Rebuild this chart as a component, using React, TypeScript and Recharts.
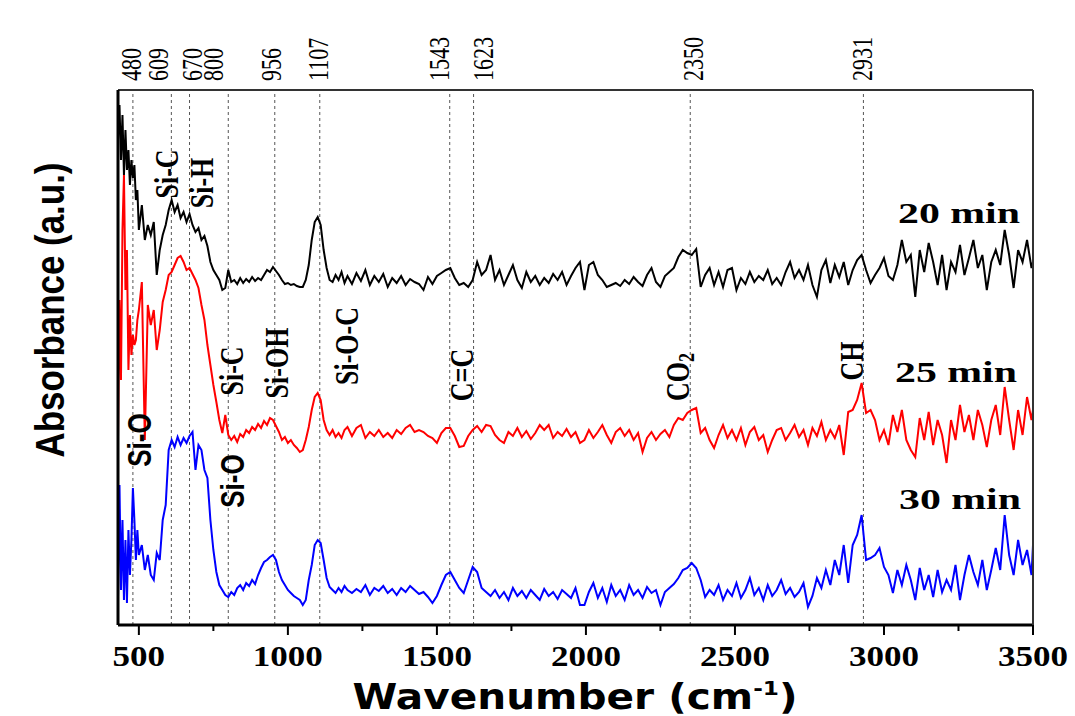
import { LineChart, Line, XAxis, YAxis, ReferenceLine } from "recharts";

// wavenumber grid (cm-1)
const wavenumbers = [
  430, 435, 440, 445, 450, 455, 460, 465, 470, 475,
  480, 485, 490, 495, 500,
  510, 520, 530, 540, 550, 560, 570, 580, 590, 600,
  610, 620, 630, 640, 650, 660, 670, 680, 690, 700,
  710, 720, 730, 740, 750, 760, 770, 780, 790, 800,
  810, 820, 830, 840, 850, 860, 870, 880, 890, 900,
  910, 920, 930, 940, 950, 960, 970, 980, 990, 1000,
  1010, 1020, 1030, 1040, 1050, 1060, 1070, 1080, 1090, 1100,
  1110, 1120, 1130, 1140, 1150, 1160, 1170, 1180, 1190, 1200,
  1215, 1230, 1245, 1260, 1275, 1290, 1305, 1320, 1335, 1350,
  1365, 1380, 1395, 1410, 1425, 1440, 1455, 1470, 1485, 1500,
  1515, 1530, 1545, 1560, 1575, 1590, 1605, 1620, 1635, 1650,
  1665, 1680, 1695, 1710, 1725, 1740, 1755, 1770, 1785, 1800,
  1815, 1830, 1845, 1860, 1875, 1890, 1905, 1920, 1935, 1950,
  1965, 1980, 1995, 2010, 2025, 2040, 2055, 2070, 2085, 2100,
  2115, 2130, 2145, 2160, 2175, 2190, 2205, 2220, 2235, 2250,
  2265, 2280, 2295, 2310, 2325, 2340, 2355, 2370, 2385, 2400,
  2415, 2430, 2445, 2460, 2475, 2490, 2505, 2520, 2535, 2550,
  2565, 2580, 2595, 2610, 2625, 2640, 2655, 2670, 2685, 2700,
  2715, 2730, 2745, 2760, 2775, 2790, 2805, 2820, 2835, 2850,
  2865, 2880, 2895, 2910, 2925, 2940, 2955, 2970, 2985, 3000,
  3015, 3030, 3045, 3060, 3075, 3090, 3105, 3120, 3135, 3150,
  3165, 3180, 3195, 3210, 3225, 3240, 3255, 3270, 3285, 3300,
  3315, 3330, 3345, 3360, 3375, 3390, 3405, 3420, 3435, 3450,
  3465, 3480, 3495, 3500,
];

// 20 min (black), stacked absorbance (a.u.)
const abs20min = [
  4.85, 5.2, 4.65, 5.1, 4.5, 4.95, 4.55, 4.75, 4.4, 4.65,
  4.47, 4.6, 4.25, 4.35, 3.95,
  4.2, 3.85, 4.0, 3.9, 4.03, 3.5, 3.75, 3.9, 4.0, 4.15,
  4.25, 4.13, 4.2, 4.07, 4.13, 4.03, 4.11, 4.0, 3.93, 3.97,
  3.85, 3.89, 3.79, 3.63, 3.55, 3.5, 3.45, 3.35, 3.37, 3.55,
  3.43, 3.45, 3.41, 3.47, 3.42, 3.46, 3.43, 3.48, 3.44, 3.47,
  3.45, 3.5, 3.55, 3.53, 3.58, 3.54, 3.5, 3.45, 3.41, 3.42,
  3.4, 3.41, 3.39, 3.38, 3.38, 3.45, 3.6, 3.85, 4.03, 4.08,
  4.0, 3.75, 3.57, 3.45, 3.43, 3.5, 3.45, 3.53, 3.42, 3.49,
  3.41, 3.52, 3.44, 3.55, 3.4, 3.49, 3.43, 3.51, 3.38, 3.47,
  3.42, 3.49, 3.4, 3.46, 3.43, 3.41, 3.35, 3.48, 3.41, 3.49,
  3.52, 3.55, 3.57, 3.47, 3.4, 3.42, 3.38, 3.45, 3.63, 3.5,
  3.55, 3.7, 3.45, 3.55, 3.4, 3.5, 3.6, 3.45, 3.37, 3.53,
  3.43, 3.49, 3.4, 3.47, 3.42, 3.51, 3.45, 3.53, 3.4, 3.49,
  3.57, 3.63, 3.35, 3.6, 3.63, 3.5, 3.45, 3.38, 3.4, 3.42,
  3.39, 3.45, 3.41, 3.48, 3.43, 3.39, 3.5, 3.57, 3.43, 3.38,
  3.49, 3.53, 3.57, 3.68, 3.75, 3.72, 3.7, 3.76, 3.38, 3.5,
  3.57, 3.4, 3.53, 3.38, 3.55, 3.57, 3.35, 3.47, 3.41, 3.53,
  3.43, 3.49, 3.45, 3.55, 3.41, 3.47, 3.4, 3.53, 3.63, 3.47,
  3.55, 3.45, 3.6, 3.4, 3.28, 3.55, 3.65, 3.42, 3.6, 3.48,
  3.63, 3.4, 3.55, 3.65, 3.7, 3.55, 3.42, 3.5, 3.57, 3.67,
  3.49, 3.45, 3.6, 3.85, 3.63, 3.7, 3.28, 3.75, 3.53, 3.82,
  3.63, 3.4, 3.7, 3.35, 3.63, 3.53, 3.8, 3.5, 3.67, 3.85,
  3.57, 3.7, 3.35, 3.63, 3.75, 3.6, 3.95, 3.7, 3.37, 3.75,
  3.63, 3.85, 3.57, 3.63,
];

// 25 min (red)
const abs25min = [
  1.85, 3.25, 2.45, 3.95, 4.5, 3.35, 3.75, 2.55, 3.1, 2.7,
  2.9, 2.8, 2.85, 3.05, 3.15,
  3.43, 1.85, 3.2, 3.0, 3.15, 2.75, 2.95, 3.23, 3.35, 3.5,
  3.53, 3.6, 3.67, 3.69, 3.63, 3.55, 3.57, 3.51, 3.45, 3.37,
  3.2, 3.05, 2.8, 2.6, 2.4, 2.23, 2.05, 1.92, 2.1, 1.9,
  1.85, 1.89, 1.83, 1.91, 1.88, 1.95, 1.92, 1.98, 1.95, 2.01,
  1.97, 2.04, 2.0, 2.07, 2.05, 1.99, 1.93, 1.85, 1.88, 1.82,
  1.85, 1.8, 1.77, 1.73, 1.75, 1.85, 1.98, 2.15, 2.28, 2.32,
  2.25, 2.05, 1.95, 1.9, 1.95, 1.88, 1.92, 1.87, 1.95, 1.98,
  1.89, 1.97, 2.0, 1.87, 1.93, 1.89, 1.95, 1.88, 1.92, 1.87,
  1.95, 1.91, 1.97, 2.0, 1.93, 1.95, 1.93, 1.89, 1.87, 1.82,
  1.92, 1.97, 1.97, 1.89, 1.78, 1.79, 1.89, 1.95, 1.99, 1.93,
  2.0, 1.99, 1.9, 1.85, 1.82, 1.93, 1.89, 1.97, 1.88, 1.94,
  1.86, 1.92, 2.0, 1.95, 2.0, 1.87, 1.93, 1.89, 1.96, 1.88,
  1.93, 1.82, 1.85, 1.95, 1.87, 1.93, 2.0, 1.9, 1.82, 1.93,
  1.97, 1.89, 1.95, 1.85, 1.92, 1.73, 1.87, 1.93, 1.85, 1.91,
  1.95, 1.88, 2.0, 2.07, 2.05, 2.12, 2.15, 2.17, 1.92, 1.97,
  1.85, 1.77, 1.9, 2.0, 1.87, 1.95, 1.85, 1.97, 1.8, 1.93,
  1.98, 1.85, 1.9, 1.73, 1.85, 1.95, 1.97, 1.85, 1.92, 2.0,
  1.88, 1.95, 1.8, 1.97, 1.89, 2.03, 1.85, 1.95, 1.87, 2.0,
  1.7, 2.13, 2.15, 2.25, 2.42, 2.12, 2.15, 2.05, 1.85, 1.95,
  1.8, 2.1, 1.93, 2.15, 1.85, 1.75, 1.68, 2.07, 1.85, 2.13,
  1.8, 2.05, 1.9, 1.62, 2.05, 1.85, 2.2, 1.93, 2.1, 1.85,
  2.15, 2.0, 1.78, 2.05, 2.2, 1.9, 2.38, 2.05, 1.75, 2.15,
  1.9, 2.28, 2.05, 2.15,
];

// 30 min (blue)
const abs30min = [
  0.25, 1.4, 0.35, 1.05, 0.25, 0.85, 0.22, 0.95, 0.5, 0.85,
  1.37, 1.05, 0.65, 0.95, 0.7,
  0.8, 0.55, 0.7, 0.5, 0.45, 0.72, 0.65, 1.05, 1.2, 1.75,
  1.85, 1.78, 1.88, 1.8, 1.87, 1.82, 1.89, 1.93, 1.55, 1.8,
  1.75, 1.55, 1.47, 1.05, 0.75, 0.53, 0.4, 0.35, 0.3, 0.28,
  0.33, 0.3, 0.37, 0.4, 0.35, 0.42, 0.39, 0.45, 0.41, 0.5,
  0.57, 0.63, 0.65, 0.68, 0.7, 0.65, 0.53, 0.45, 0.4, 0.35,
  0.32, 0.29, 0.27, 0.25, 0.2, 0.25, 0.45, 0.6, 0.8, 0.85,
  0.82, 0.65, 0.47, 0.38, 0.35, 0.32, 0.37, 0.33, 0.39, 0.35,
  0.32, 0.36, 0.33, 0.4, 0.3, 0.37, 0.34, 0.39, 0.32, 0.36,
  0.3, 0.37, 0.33, 0.39, 0.35, 0.31, 0.33, 0.28, 0.22, 0.29,
  0.4, 0.5, 0.53, 0.45, 0.37, 0.32, 0.45, 0.58, 0.53, 0.37,
  0.33, 0.29, 0.35, 0.27, 0.33, 0.25, 0.37, 0.29, 0.34, 0.27,
  0.35, 0.3, 0.25, 0.36, 0.29, 0.33, 0.26, 0.35, 0.31, 0.27,
  0.37, 0.2, 0.2, 0.33, 0.42, 0.27, 0.37, 0.23, 0.4, 0.29,
  0.35, 0.25, 0.4, 0.3, 0.35, 0.27, 0.38, 0.32, 0.35, 0.2,
  0.33, 0.37, 0.41, 0.47, 0.55, 0.57, 0.62, 0.57, 0.45, 0.28,
  0.35, 0.3, 0.4, 0.25, 0.35, 0.29, 0.42, 0.27, 0.35, 0.47,
  0.3, 0.37, 0.25, 0.4, 0.29, 0.35, 0.45, 0.31, 0.37, 0.28,
  0.33, 0.42, 0.18, 0.29, 0.47, 0.37, 0.55, 0.4, 0.65, 0.5,
  0.8, 0.42, 0.8, 0.9, 1.1, 0.65, 0.67, 0.7, 0.77, 0.58,
  0.5, 0.32, 0.55, 0.4, 0.6, 0.45, 0.25, 0.57, 0.35, 0.5,
  0.28, 0.55, 0.33, 0.45, 0.35, 0.6, 0.25, 0.5, 0.7, 0.53,
  0.4, 0.65, 0.35, 0.55, 0.77, 0.55, 1.1, 0.7, 0.5, 0.85,
  0.6, 0.75, 0.5, 0.8,
];

const majorTicks = [500, 1000, 1500, 2000, 2500, 3000, 3500];
const minorTicks = [750, 1250, 1750, 2250, 2750, 3250];
const bandMarks = [480, 609, 670, 800, 956, 1107, 1543, 1623, 2350, 2931];

const W = 1075;
const H = 716;
// plot area: x 118..1033, y 90..625 (axes take 1px each)
const M = { top: 89, right: 41, bottom: 90, left: 117 };
const AXIS_Y = 625;
const X_MIN = 430;
const X_MAX = 3500;

const SERIF = "'Liberation Serif', 'Times New Roman', serif";
const SANS = "'Liberation Sans', Arial, sans-serif";

const renderTick = (props: any) => {
  const { x, payload } = props;
  const v = payload.value;
  const major = v % 500 === 0;
  const s = String(v);
  return (
    <g>
      <line x1={x} x2={x} y1={AXIS_Y} y2={AXIS_Y + (major ? 10 : 6)} stroke="#000" strokeWidth={2} />
      {major && (
        <text x={x} y={666} textAnchor="middle" fontFamily={SERIF} fontWeight="bold" fontSize={30}
          textLength={s.length * 17.5} lengthAdjust="spacingAndGlyphs" fill="#000">
          {s}
        </text>
      )}
    </g>
  );
};

export default function App() {
  const data = wavenumbers.map((wn, i) => ({
    wn,
    m20: abs20min[i],
    m25: abs25min[i],
    m30: abs30min[i],
  }));

  // centres of the rotated labels above the frame (they are nudged apart where crowded)
  const bandLabelX = [131, 158, 192, 213, 271, 318, 439, 483, 693, 862];

  // vertical band labels inside the plot
  const notes = [
    { t: "Si-C", x: 167, y: 174, sans: false },
    { t: "Si-H", x: 202, y: 183, sans: false },
    { t: "Si-C", x: 232, y: 371, sans: false },
    { t: "Si-OH", x: 277, y: 363, sans: false },
    { t: "Si-O-C", x: 347, y: 346, sans: false },
    { t: "C=C", x: 462, y: 375, sans: false },
    { t: "CH", x: 852, y: 361, sans: false },
    { t: "Si-O", x: 139, y: 440, sans: true },
    { t: "Si-O", x: 232, y: 481, sans: true },
  ];

  const minutes = [
    { t: "20 min", x: 959, y: 223 },
    { t: "25 min", x: 956, y: 382 },
    { t: "30 min", x: 960, y: 509 },
  ];

  return (
    <div style={{ position: "absolute", left: 0, top: 0, width: W, height: H, background: "#fff" }}>
      <LineChart width={W} height={H} data={data} margin={M}>
        <XAxis
          dataKey="wn"
          type="number"
          domain={[X_MIN, X_MAX]}
          ticks={[...majorTicks, ...minorTicks].sort((a, b) => a - b)}
          height={1}
          tickSize={0}
          tick={renderTick}
          tickLine={false}
          axisLine={{ stroke: "#000", strokeWidth: 3 }}
        />
        <XAxis
          xAxisId="top"
          orientation="top"
          dataKey="wn"
          type="number"
          domain={[X_MIN, X_MAX]}
          height={1}
          tick={false}
          tickLine={false}
          axisLine={{ stroke: "#333", strokeWidth: 2 }}
        />
        <YAxis
          type="number"
          domain={[0, 5.35]}
          width={1}
          tick={false}
          tickLine={false}
          axisLine={{ stroke: "#000", strokeWidth: 3 }}
        />
        <YAxis
          yAxisId="right"
          orientation="right"
          type="number"
          domain={[0, 5.35]}
          width={1}
          tick={false}
          tickLine={false}
          axisLine={{ stroke: "#333", strokeWidth: 2 }}
        />
        {bandMarks.map((b) => (
          <ReferenceLine key={b} x={b} stroke="#555" strokeWidth={1} strokeDasharray="3 3" />
        ))}
        <Line type="linear" dataKey="m20" stroke="#000000" strokeWidth={2} dot={false} isAnimationActive={false} />
        <Line type="linear" dataKey="m25" stroke="#ff0000" strokeWidth={2} dot={false} isAnimationActive={false} />
        <Line type="linear" dataKey="m30" stroke="#0000ff" strokeWidth={2} dot={false} isAnimationActive={false} />
      </LineChart>

      <svg width={W} height={H} style={{ position: "absolute", left: 0, top: 0, pointerEvents: "none" }}>
        {/* band positions above the frame */}
        {bandMarks.map((b, i) => (
          <text key={b} transform={`translate(${bandLabelX[i]},81) rotate(-90) scale(1,1.3)`} dominantBaseline="central"
            fontFamily={SERIF} fontSize={22} fill="#000">
            {b}
          </text>
        ))}

        {notes.map((n, i) => (
          <text key={i} transform={`translate(${n.x},${n.y}) rotate(-90) scale(1,1.3)`} textAnchor="middle"
            dominantBaseline="central" fontFamily={n.sans ? SANS : SERIF} fontWeight="bold" fontSize={26} fill="#000">
            {n.t}
          </text>
        ))}
        <text transform="translate(678,377) rotate(-90) scale(1,1.3)" textAnchor="middle" dominantBaseline="central"
          fontFamily={SERIF} fontWeight="bold" fontSize={26} fill="#000">
          CO<tspan fontSize={18} dy={6}>2</tspan>
        </text>

        {minutes.map((m) => (
          <text key={m.t} x={m.x} y={m.y} textAnchor="middle" fontFamily={SERIF} fontWeight="bold" fontSize={29}
            textLength={122} lengthAdjust="spacingAndGlyphs" fill="#000">
            {m.t}
          </text>
        ))}

        <text x={575} y={709} textAnchor="middle" fontFamily="'DejaVu Sans', sans-serif" fontWeight="bold" fontSize={35}
          textLength={445} lengthAdjust="spacingAndGlyphs" fill="#000">
          Wavenumber (cm<tspan fontSize={20} dy={-14}>-1</tspan><tspan dy={14}>)</tspan>
        </text>
        <text transform="translate(50,310) rotate(-90)" textAnchor="middle" dominantBaseline="central" fontFamily={SANS}
          fontWeight="bold" fontSize={41} textLength={295} lengthAdjust="spacingAndGlyphs" fill="#000">
          Absorbance (a.u.)
        </text>
      </svg>
    </div>
  );
}
